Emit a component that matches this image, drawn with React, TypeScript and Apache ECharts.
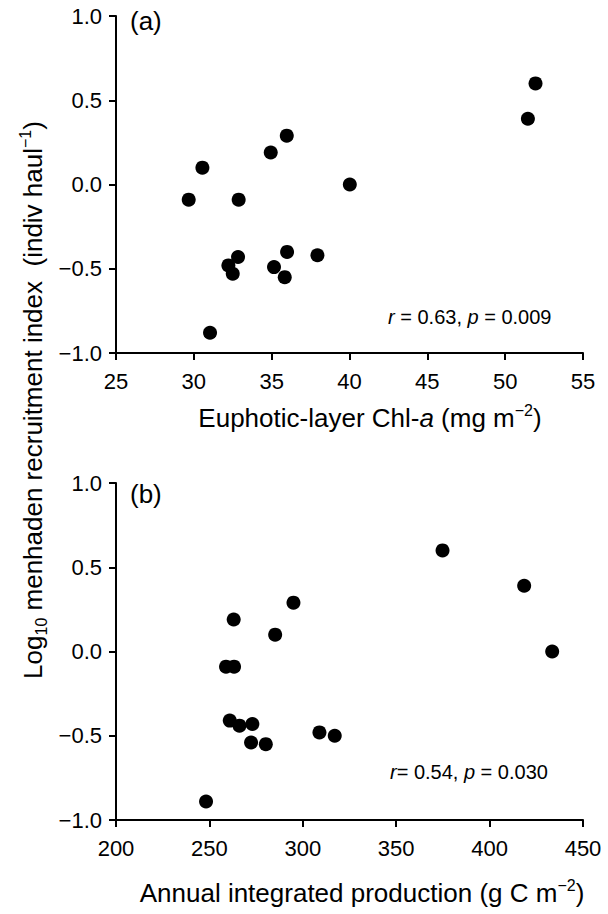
import React, { useEffect, useRef } from "react";
import * as echarts from "echarts";

// Panel (a): euphotic-layer Chl-a vs log10 recruitment index
const chlX = [29.67, 30.55, 31.04, 32.22, 32.5, 32.84, 32.88, 34.94, 35.15, 35.97, 35.99, 35.84, 37.94, 40.02, 51.46, 51.95];
const chlY = [-0.09, 0.10, -0.88, -0.48, -0.53, -0.43, -0.09, 0.19, -0.49, 0.29, -0.40, -0.55, -0.42, 0.00, 0.39, 0.60];

// Panel (b): annual integrated production vs log10 recruitment index
const prodX = [248.2, 258.9, 263.2, 263.0, 260.9, 266.1, 273.0, 272.3, 280.2, 285.2, 295.0, 308.9, 317.1, 374.8, 418.5, 433.5];
const prodY = [-0.89, -0.09, -0.09, 0.19, -0.41, -0.44, -0.43, -0.54, -0.55, 0.10, 0.29, -0.48, -0.50, 0.60, 0.39, 0.00];

const xRangeA = { min: 25, max: 55, interval: 5 };
const xRangeB = { min: 200, max: 450, interval: 50 };
const yRange = { min: -1, max: 1, interval: 0.5 };

const statsA = "{i|r} = 0.63, {i|p} = 0.009";
const statsB = "{i|r}= 0.54, {i|p} = 0.030";
const titleA = "{n|Euphotic-layer Chl-}{i|a}{n| (mg m}{sup|\u22122}{n|)}";
const titleB = "{n|Annual integrated production (g C m}{sup|\u22122}{n|)}";
const titleY = "{n|Log}{sub|10}{n| menhaden recruitment index  (indiv haul}{sup|\u22121}{n|)}";

const FONT = "'Liberation Sans', Arial, Helvetica, sans-serif";

const fmtY = (v: number) => (v < 0 ? "\u2212" : "") + Math.abs(v).toFixed(1);

export default function App() {
  const ref = useRef<HTMLDivElement>(null);

  useEffect(() => {
    document.body.style.margin = "0";
    if (!ref.current) return;
    const chart = echarts.init(ref.current, null, { renderer: "svg" });

    const axisLine = { show: true, onZero: false, lineStyle: { color: "#000", width: 2 } };
    const axisTick = { show: true, length: 7, lineStyle: { color: "#000", width: 2 } };
    const xLabel = { color: "#000", fontSize: 22, fontFamily: FONT, margin: 17 };
    const yLabel = { color: "#000", fontSize: 22, fontFamily: FONT, margin: 14, formatter: fmtY };

    const mkX = (idx: number, r: { min: number; max: number; interval: number }) => ({
      type: "value",
      gridIndex: idx,
      min: r.min,
      max: r.max,
      interval: r.interval,
      axisLine,
      axisTick,
      axisLabel: xLabel,
      splitLine: { show: false },
    });
    const mkY = (idx: number) => ({
      type: "value",
      gridIndex: idx,
      min: yRange.min,
      max: yRange.max,
      interval: yRange.interval,
      axisLine,
      axisTick,
      axisLabel: yLabel,
      splitLine: { show: false },
    });

    const italicRich = {
      i: { fontStyle: "italic", fontSize: 20, fontFamily: FONT, fill: "#000" },
    };
    const titleRich = {
      n: { fontSize: 26, lineHeight: 32, fontFamily: FONT, fill: "#000", verticalAlign: "middle" },
      i: { fontSize: 26, lineHeight: 32, fontFamily: FONT, fill: "#000", fontStyle: "italic", verticalAlign: "middle" },
      sup: { fontSize: 16, lineHeight: 16, fontFamily: FONT, fill: "#000", verticalAlign: "top" },
      sub: { fontSize: 16, lineHeight: 16, fontFamily: FONT, fill: "#000", verticalAlign: "bottom" },
    };

    chart.setOption({
      animation: false,
      backgroundColor: "#fff",
      grid: [
        { left: 116, right: 25, top: 16, height: 337 },
        { left: 116, right: 25, top: 483, height: 337 },
      ],
      xAxis: [mkX(0, xRangeA), mkX(1, xRangeB)],
      yAxis: [mkY(0), mkY(1)],
      series: [
        {
          type: "scatter",
          xAxisIndex: 0,
          yAxisIndex: 0,
          symbol: "circle",
          symbolSize: 14,
          itemStyle: { color: "#000", opacity: 1 },
          data: chlX.map((x, i) => [x, chlY[i]]),
        },
        {
          type: "scatter",
          xAxisIndex: 1,
          yAxisIndex: 1,
          symbol: "circle",
          symbolSize: 14,
          itemStyle: { color: "#000", opacity: 1 },
          data: prodX.map((x, i) => [x, prodY[i]]),
        },
      ],
      graphic: [
        {
          type: "text",
          x: 130,
          y: 21,
          style: { text: "(a)", fontSize: 26, fontFamily: FONT, fill: "#000", verticalAlign: "middle" },
        },
        {
          type: "text",
          x: 130,
          y: 494,
          style: { text: "(b)", fontSize: 26, fontFamily: FONT, fill: "#000", verticalAlign: "middle" },
        },
        {
          type: "text",
          x: 388,
          y: 317,
          style: {
            text: statsA,
            fontSize: 20,
            fontFamily: FONT,
            fill: "#000",
            verticalAlign: "middle",
            rich: italicRich,
          },
        },
        {
          type: "text",
          x: 390,
          y: 772,
          style: {
            text: statsB,
            fontSize: 20,
            fontFamily: FONT,
            fill: "#000",
            verticalAlign: "middle",
            rich: italicRich,
          },
        },
        {
          type: "text",
          x: 370,
          y: 418,
          style: {
            text: titleA,
            fontSize: 26,
            fontFamily: FONT,
            fill: "#000",
            align: "center",
            verticalAlign: "middle",
            rich: titleRich,
          },
        },
        {
          type: "text",
          x: 362,
          y: 893,
          style: {
            text: titleB,
            fontSize: 26,
            fontFamily: FONT,
            fill: "#000",
            align: "center",
            verticalAlign: "middle",
            rich: titleRich,
          },
        },
        {
          type: "text",
          x: 33,
          y: 400,
          rotation: Math.PI / 2,
          style: {
            text: titleY,
            fontSize: 26,
            fontFamily: FONT,
            fill: "#000",
            align: "center",
            verticalAlign: "middle",
            rich: titleRich,
          },
        },
      ],
    });

    return () => {
      chart.dispose();
    };
  }, []);

  return <div ref={ref} style={{ width: 608, height: 914 }} />;
}
